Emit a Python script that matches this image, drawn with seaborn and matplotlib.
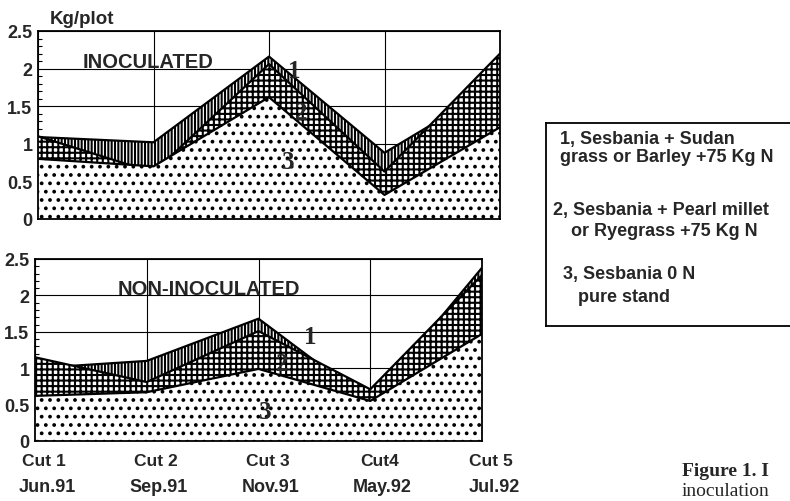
import numpy as np
import pandas as pd
import matplotlib
matplotlib.use("Agg")
import matplotlib.pyplot as plt
import matplotlib.transforms as mtransforms
from matplotlib.ticker import MultipleLocator
import seaborn as sns

# ---------------- data ----------------
cuts = ["Cut 1", "Cut 2", "Cut 3", "Cut4", "Cut 5"]
dates = ["Jun.91", "Sep.91", "Nov.91", "May.92", "Jul.92"]

inoc_s1 = [1.09, 1.02, 2.16, 0.88, 1.80]
inoc_s2 = [1.10, 0.62, 2.06, 0.63, 2.20]
inoc_s3 = [0.80, 0.70, 1.62, 0.32, 1.22]

non_s1 = [1.00, 1.10, 1.68, 0.53, 2.38]
non_s2 = [1.15, 0.81, 1.51, 0.71, 2.28]
non_s3 = [0.62, 0.67, 0.99, 0.55, 1.47]

yticks = [0, 0.5, 1, 1.5, 2, 2.5]
ytick_labels = ["0", "0.5", "1", "1.5", "2", "2.5"]

legend_lines = [
    "1, Sesbania + Sudan",
    "grass or Barley +75 Kg N",
    "2, Sesbania + Pearl millet",
    " or Ryegrass +75 Kg N",
    "3, Sesbania 0 N",
    "pure stand",
]

# ---------------- style ----------------
sns.set_style("white")
plt.rcParams["font.family"] = ["Liberation Sans", "DejaVu Sans"]
plt.rcParams["hatch.linewidth"] = 1.5
plt.rcParams["hatch.color"] = "black"

W, H = 790, 502
fig = plt.figure(figsize=(W / 100, H / 100), dpi=100)


def px_rect(x0, y0, x1, y1):
    return [x0 / W, 1 - y1 / H, (x1 - x0) / W, (y1 - y0) / H]


ax_top = fig.add_axes(px_rect(38, 32, 500, 220))
ax_bot = fig.add_axes(px_rect(35, 260, 482, 442))

hatches = ["|||||", "+++", ".."]


def draw_panel(ax, s1, s2, s3, title, title_xy, num_xy):
    x = np.arange(len(cuts))
    df = pd.DataFrame({"x": x, "s1": s1, "s2": s2, "s3": s3})
    for i, (col, h) in enumerate(zip(["s1", "s2", "s3"], hatches)):
        z = 2 + i
        ax.fill_between(df["x"], 0, df[col], facecolor="white", edgecolor="black",
                        hatch=h, linewidth=0, zorder=z)
        sns.lineplot(data=df, x="x", y=col, ax=ax, color="black", linewidth=1.6,
                     zorder=z + 0.5)
    ax.set_xlim(0, len(cuts) - 1)
    ax.set_ylim(0, 2.5)
    ax.set_xlabel("")
    ax.set_ylabel("")
    ax.set_xticks(x)
    ax.set_yticks(yticks)
    ax.set_yticklabels(ytick_labels, fontsize=13, fontweight="bold")
    ax.yaxis.set_minor_locator(MultipleLocator(0.1))
    ax.tick_params(axis="y", which="major", direction="out", length=4, width=1,
                   pad=0, color="black")
    ax.tick_params(axis="y", which="minor", direction="in", length=3, width=0.8,
                   color="black", left=True)
    ax.tick_params(axis="x", which="major", direction="out", length=3, width=1,
                   color="black")
    ax.set_xticklabels([])
    ax.grid(True, which="major", color="black", linewidth=0.8, zorder=1)
    ax.set_axisbelow(True)
    for sp in ax.spines.values():
        sp.set_color("black")
        sp.set_linewidth(1.3)
        sp.set_zorder(10)
    ax.text(title_xy[0], title_xy[1], title, fontsize=14.5, fontweight="bold",
            ha="center", va="center", zorder=8)
    for lab, (nx, ny) in zip(["1", "2", "3"], num_xy):
        ax.text(nx, ny, lab, fontsize=18, fontweight="bold",
                family=["Liberation Serif", "DejaVu Serif"],
                ha="center", va="center", zorder=9)


draw_panel(ax_top, inoc_s1, inoc_s2, inoc_s3, "INOCULATED", (0.95, 2.09),
           [(2.22, 1.97), (2.28, 1.42), (2.17, 0.76)])
draw_panel(ax_bot, non_s1, non_s2, non_s3, "NON-INOCULATED", (1.56, 2.09),
           [(2.46, 1.44), (2.21, 1.06), (2.06, 0.40)])

# x labels under the bottom panel
blend = mtransforms.blended_transform_factory(ax_bot.transData, fig.transFigure)
off_cut = mtransforms.ScaledTranslation(9 / 100, 0, fig.dpi_scale_trans)
off_date = mtransforms.ScaledTranslation(12 / 100, 0, fig.dpi_scale_trans)
for i, (c, d) in enumerate(zip(cuts, dates)):
    ax_bot.text(i, 1 - 462 / H, c, transform=blend + off_cut, ha="center",
                va="center", fontsize=12.5, fontweight="bold", clip_on=False)
    ax_bot.text(i, 1 - 488 / H, d, transform=blend + off_date, ha="center",
                va="center", fontsize=13, fontweight="bold", clip_on=False)

fig.text(50 / W, 1 - 20 / H, "Kg/plot", fontsize=13.5, fontweight="bold",
         ha="left", va="center")

# legend box
ax_leg = fig.add_axes(px_rect(546, 124, 800, 327))
ax_leg.set_xticks([])
ax_leg.set_yticks([])
for sp in ax_leg.spines.values():
    sp.set_color("black")
    sp.set_linewidth(1.3)
leg_pos = [(560, 140), (560, 158), (553, 210), (566, 232), (563, 275), (578, 297)]
for txt, (lx, ly) in zip(legend_lines, leg_pos):
    fig.text(lx / W, 1 - ly / H, txt, fontsize=13, fontweight="bold",
             ha="left", va="center")

# caption fragment (cut off by the page edge)
fig.text(682 / W, 1 - 471 / H, "Figure 1. I", fontsize=14, fontweight="bold",
         family=["Liberation Serif", "DejaVu Serif"], ha="left", va="center")
fig.text(682 / W, 1 - 492 / H, "inoculation", fontsize=14,
         family=["Liberation Serif", "DejaVu Serif"], ha="left", va="center")

fig.savefig("out.png", dpi=100, facecolor="white")
